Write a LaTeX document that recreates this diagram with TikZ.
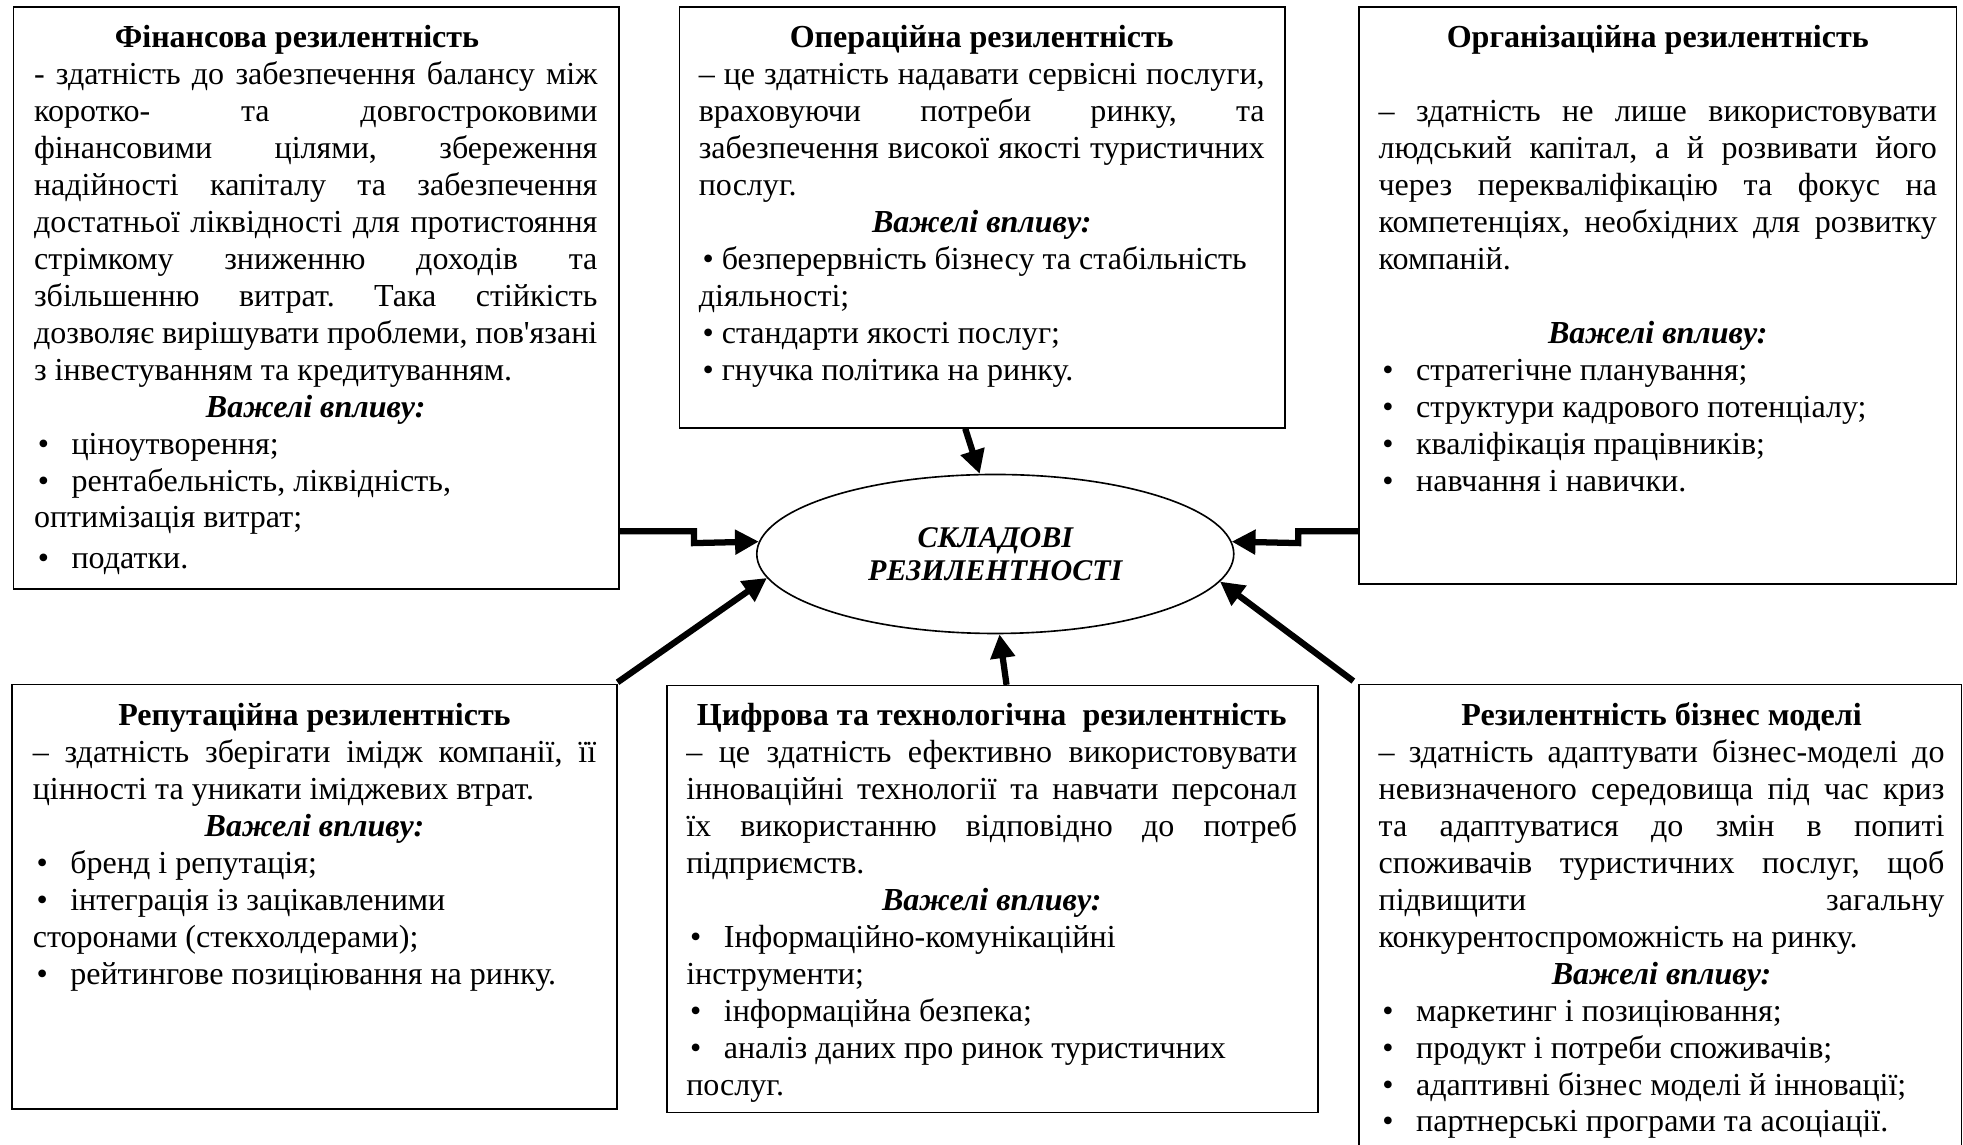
\documentclass[tikz,border=0pt]{standalone}
\usepackage{fontspec}
\setmainfont{Liberation Serif}
\usetikzlibrary{arrows.meta,shapes.geometric}
\hbadness=10000 \hfuzz=60pt
\newcommand{\SPfix}{\frenchspacing\spaceskip=0pt \xspaceskip=0pt }
\newcommand{\LJ}[1]{\par\hbox to\hsize{\SPfix\strut#1}}
\newcommand{\LR}[1]{\par\hbox to\hsize{\SPfix\strut#1\hfil}}
\newcommand{\LC}[1]{\par\hbox to\hsize{\SPfix\strut\hfil#1\hfil}}
\newcommand{\LB}[1]{\par\hbox to\hsize{\SPfix\strut\hbox to30pt{\hskip3pt\textbullet\hfil}#1\hfil}}
\newcommand{\LE}{\par\hbox to\hsize{\strut\hfil}}
\tikzset{
  x=1pt, y=-1pt,
  box/.style={draw, line width=1.3pt, inner sep=0pt, anchor=north west},
  txt/.style={inner sep=0pt, anchor=north west, text width=#1,
    font=\fontsize{25.6}{29.5}\selectfont},
  arr/.style={line width=5pt, line join=miter, -{Triangle[length=19pt,width=19pt]}}
}
\begin{document}
\begin{tikzpicture}
\useasboundingbox (0,0) rectangle (1568,914);
\clip (0,0) rectangle (1568,914);

% boxes
\node[box, minimum width=484pt, minimum height=465pt] (fin) at (10,5) {};
\node[box, minimum width=484pt, minimum height=336pt] (ops) at (542,5) {};
\node[box, minimum width=477pt, minimum height=461pt] (org) at (1085,5) {};
\node[box, minimum width=483pt, minimum height=339pt] (rep) at (9,546) {};
\node[box, minimum width=520pt, minimum height=341pt] (dig) at (532,547) {};
\node[box, minimum width=481pt, minimum height=420pt] (bus) at (1085,546) {};

% centre
\node[ellipse, draw, line width=1.3pt, minimum width=381pt, minimum height=127pt,
  inner sep=0pt, align=center,
  font=\fontsize{24}{26.5}\selectfont\bfseries\itshape] (ell) at (795,442.5)
  {СКЛАДОВІ\\РЕЗИЛЕНТНОСТІ};

% texts
\node[txt=450pt] (fint) at (27,8.5) {%
\LC{\bfseries Фінансова резилентність\hskip30pt}
\LJ{- здатність до забезпечення балансу між}
\LJ{коротко- та довгостроковими}
\LJ{фінансовими цілями, збереження}
\LJ{надійності капіталу та забезпечення}
\LJ{достатньої ліквідності для протистояння}
\LJ{стрімкому зниженню доходів та}
\LJ{збільшенню витрат. Така стійкість}
\LJ{дозволяє вирішувати проблеми, пов\textquotesingle язані}
\LR{з інвестуванням та кредитуванням.}
\LC{\bfseries\itshape Важелі впливу:}
\LB{ціноутворення;}
\LB{рентабельність, ліквідність,}
\LR{оптимізація витрат;}
\vskip3pt
\LB{податки.}};

\node[txt=452pt] (opst) at (558,8.5) {%
\LC{\bfseries Операційна резилентність}
\LJ{– це здатність надавати сервісні послуги,}
\LJ{враховуючи потреби ринку, та}
\LJ{забезпечення високої якості туристичних}
\LR{послуг.}
\LC{\bfseries\itshape Важелі впливу:}
\LR{\hskip3pt\textbullet\ безперервність бізнесу та стабільність}
\LR{діяльності;}
\LR{\hskip3pt\textbullet\ стандарти якості послуг;}
\LR{\hskip3pt\textbullet\ гнучка політика на ринку.}};

\node[txt=446pt] (orgt) at (1101,8.5) {%
\LC{\bfseries Організаційна резилентність}
\LE
\LJ{– здатність не лише використовувати}
\LJ{людський капітал, а й розвивати його}
\LJ{через перекваліфікацію та фокус на}
\LJ{компетенціях, необхідних для розвитку}
\LR{компаній.}
\LE
\LC{\bfseries\itshape Важелі впливу:}
\LB{стратегічне планування;}
\LB{структури кадрового потенціалу;}
\LB{кваліфікація працівників;}
\LB{навчання і навички.}};

\node[txt=450pt] (rept) at (26,550) {%
\LC{\bfseries Репутаційна резилентність}
\LJ{– здатність зберігати імідж компанії, її}
\LR{цінності та уникати іміджевих втрат.}
\LC{\bfseries\itshape Важелі впливу:}
\LB{бренд і репутація;}
\LB{інтеграція із зацікавленими}
\LR{сторонами (стекхолдерами);}
\LB{рейтингове позиціювання на ринку.}};

\node[txt=488pt] (digt) at (548,550) {%
\LC{\bfseries Цифрова та технологічна\ \ резилентність}
\LJ{– це здатність ефективно використовувати}
\LJ{інноваційні технології та навчати персонал}
\LJ{їх використанню відповідно до потреб}
\LR{підприємств.}
\LC{\bfseries\itshape Важелі впливу:}
\LB{Інформаційно-комунікаційні}
\LR{інструменти;}
\LB{інформаційна безпека;}
\LB{аналіз даних про ринок туристичних}
\LR{послуг.}};

\node[txt=452pt] (bust) at (1101,550) {%
\LC{\bfseries Резилентність бізнес моделі}
\LJ{– здатність адаптувати бізнес-моделі до}
\LJ{невизначеного середовища під час криз}
\LJ{та адаптуватися до змін в попиті}
\LJ{споживачів туристичних послуг, щоб}
\LJ{підвищити загальну}
\LR{конкурентоспроможність на ринку.}
\LC{\bfseries\itshape Важелі впливу:}
\LB{маркетинг і позиціювання;}
\LB{продукт і потреби споживачів;}
\LB{адаптивні бізнес моделі й інновації;}
\LB{партнерські програми та асоціації.}};

% connectors
\draw[arr] ([yshift=47pt]fin.south east) -- ++(59,0) -- ++(0,9.5) -- (ell.177);
\draw[arr] ([yshift=43pt]org.south west) -- ++(-48,0) -- ++(0,9.5) -- (ell.3);
\draw[arr] ([xshift=229pt]ops.south west) -- (ell.101);
\draw[arr] ([xshift=272pt]dig.north west) -- (ell.273);
\draw[arr] ([yshift=1pt]rep.north east) -- (ell.186);
\draw[arr] ([xshift=-4pt,yshift=2pt]bus.north west) -- (ell.353);
\end{tikzpicture}
\end{document}
